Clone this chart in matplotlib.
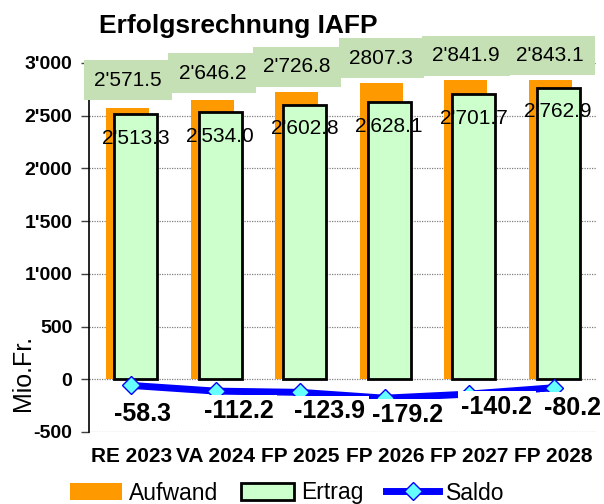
"""
Erfolgsrechnung IAFP -- Aufwand / Ertrag bars with Saldo line.
"""

import numpy as np
import matplotlib.pyplot as plt
import matplotlib.patches as mpatches
import matplotlib.lines as mlines
import matplotlib.ticker as mticker

# -- Data ----------------------------------------------------------------------
CATEGORIES = ["RE 2023", "VA 2024", "FP 2025", "FP 2026", "FP 2027", "FP 2028"]
AUFWAND    = [2571.5, 2646.2, 2726.8, 2807.3, 2841.9, 2843.1]
ERTRAG     = [2513.3, 2534.0, 2602.8, 2628.1, 2701.7, 2762.9]
SALDO      = [-58.3, -112.2, -123.9, -179.2, -140.2, -80.2]
AUFWAND_LABELS = ["2'571.5", "2'646.2", "2'726.8", "2807.3", "2'841.9", "2'843.1"]
ERTRAG_LABELS  = ["2'513.3", "2'534.0", "2'602.8", "2'628.1", "2'701.7", "2'762.9"]

# -- Styling -------------------------------------------------------------------
FONT       = "Liberation Sans"
C_AUFWAND  = "#ff9900"
C_ERTRAG   = "#ccffcc"
C_LABELBOX = "#c5e0b4"
C_SALDO    = "#0000ff"
C_DIAMOND  = "#66ffff"
BAR_W      = 0.51
# label offsets in pixels (hand tuned to the original layout)
AUF_DY     = [28, 27, 25, 25, 24, 24]
SALDO_OFF  = [(-17, -29), (-12, -20), (-6, -19), (-13, -17), (-8, -13), (-10, -20)]

plt.rcParams["font.family"] = [FONT, "DejaVu Sans"]


def thousands(v, _):
    s = f"{abs(int(v)):,}".replace(",", "'")
    return ("-" if v < 0 else "") + s


def main():
    fig = plt.figure(figsize=(6.04, 5.04), dpi=100)
    ax = fig.add_axes([89 / 604, 1 - 432 / 504, 507 / 604, 369 / 504])
    x = np.arange(len(CATEGORIES))

    ax.bar(x - 0.041, AUFWAND, width=BAR_W, color=C_AUFWAND, zorder=2)
    ax.bar(x + 0.053, ERTRAG, width=BAR_W, color=C_ERTRAG,
           edgecolor="black", linewidth=2.0, zorder=3)
    ax.plot(x, SALDO, color=C_SALDO, linewidth=5, marker="D",
            markersize=9.5, markerfacecolor=C_DIAMOND,
            markeredgecolor=C_SALDO, markeredgewidth=1.0, zorder=4)

    # -- value labels ------------------------------------------------------------
    for i in range(len(CATEGORIES)):
        ax.annotate(AUFWAND_LABELS[i], (x[i] - 0.041, AUFWAND[i]),
                    xytext=(0, AUF_DY[i]), textcoords="offset pixels",
                    ha="center", va="center", fontsize=15, zorder=5,
                    bbox=dict(boxstyle="square,pad=0.5", fc=C_LABELBOX, ec="none"))
        ax.annotate(ERTRAG_LABELS[i], (x[i] + 0.053, ERTRAG[i]),
                    xytext=(0, -24), textcoords="offset pixels",
                    ha="center", va="center", fontsize=15, zorder=5)
        dx, dy = SALDO_OFF[i]
        ax.annotate(f"{SALDO[i]:.1f}", (x[i], SALDO[i]),
                    xytext=(dx, dy), textcoords="offset pixels",
                    ha="left", va="center", fontsize=18, fontweight="bold",
                    zorder=5,
                    bbox=dict(boxstyle="square,pad=0.15", fc="white", ec="none"))

    # -- axes ----------------------------------------------------------------------
    ax.set_xlim(-0.5, len(CATEGORIES) - 0.5)
    ax.set_ylim(-500, 3000)
    ax.yaxis.set_major_locator(mticker.MultipleLocator(500))
    ax.yaxis.set_major_formatter(mticker.FuncFormatter(thousands))
    ax.set_xticks(x)
    ax.set_xticklabels(CATEGORIES, fontsize=15, fontweight="bold")
    ax.tick_params(axis="x", length=0, pad=11)
    ax.tick_params(axis="y", length=6, width=1, color="#404040", pad=6,
                   labelsize=14)
    for lab in ax.get_yticklabels():
        lab.set_fontweight("bold")
    ax.grid(axis="y", color="#808080", linestyle=(0, (1, 1)), linewidth=0.9,
            zorder=0)
    ax.set_axisbelow(True)
    for side in ("top", "right", "bottom"):
        ax.spines[side].set_visible(False)
    ax.spines["left"].set_linewidth(1.2)

    fig.text(99 / 604, 1 - 26 / 504, "Erfolgsrechnung IAFP", fontsize=19,
             fontweight="bold", ha="left", va="center")
    fig.text(23 / 604, 1 - 373 / 504, "Mio.Fr.", fontsize=18, rotation=90,
             ha="center", va="center")

    # -- legend ----------------------------------------------------------------------
    handles = [
        mpatches.Patch(facecolor=C_AUFWAND, edgecolor="none", label="Aufwand"),
        mpatches.Patch(facecolor=C_ERTRAG, edgecolor="black", linewidth=2.0,
                       label="Ertrag"),
        mlines.Line2D([], [], color=C_SALDO, linewidth=5, marker="D",
                      markersize=9.5, markerfacecolor=C_DIAMOND,
                      markeredgecolor=C_SALDO, label="Saldo"),
    ]
    fig.legend(handles=handles, loc="center", ncol=3, frameon=False,
               bbox_to_anchor=(287 / 604, 1 - 493 / 504), fontsize=16.5,
               handlelength=2.3, handletextpad=0.3, columnspacing=1.0,
               borderpad=0, borderaxespad=0)

    fig.savefig("out.png", dpi=100)


if __name__ == "__main__":
    main()
